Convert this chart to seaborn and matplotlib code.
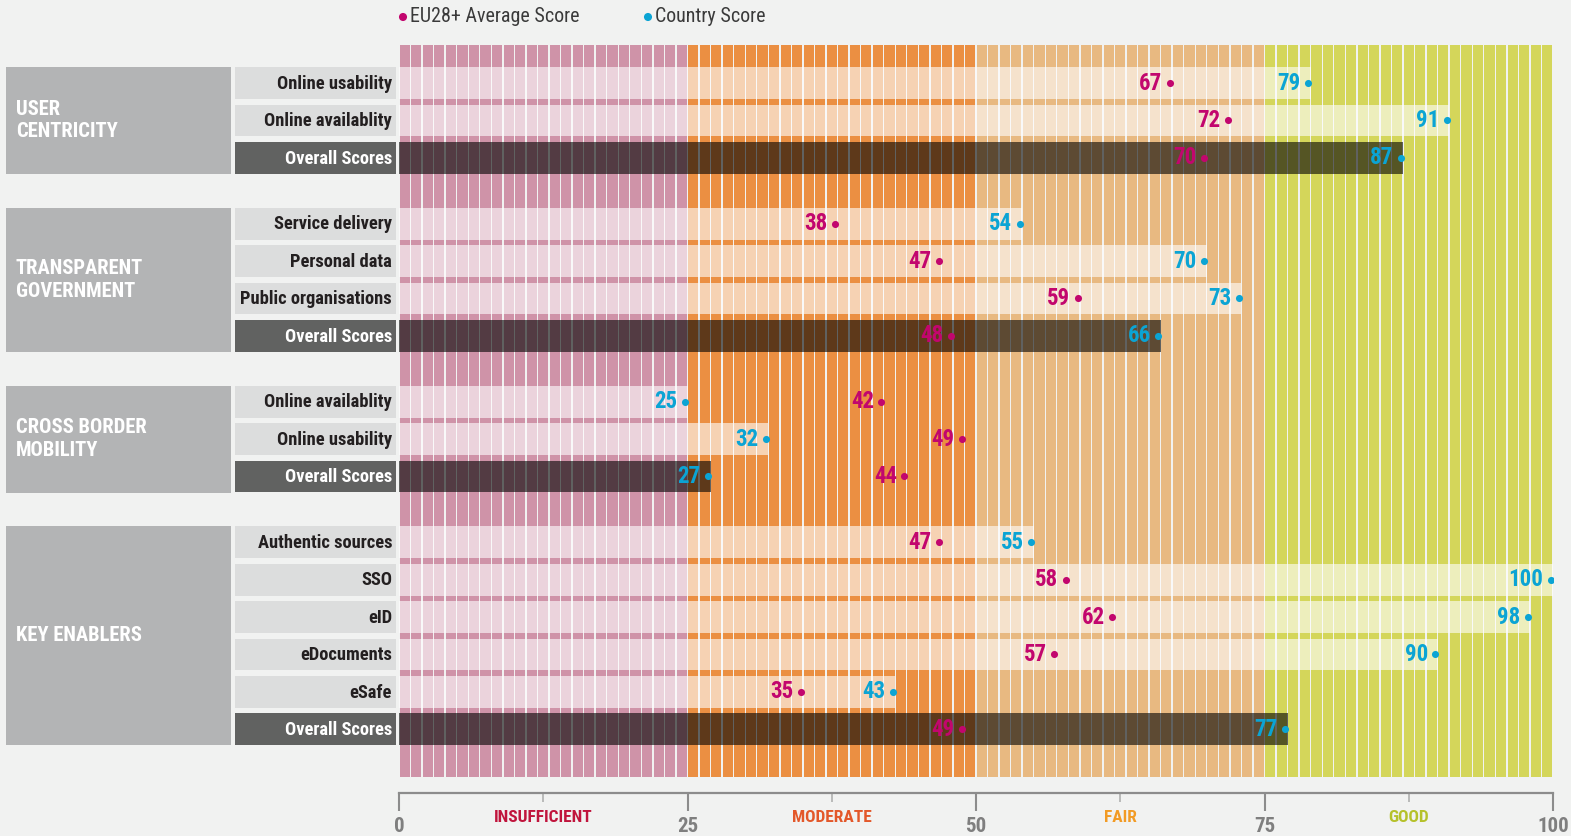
import numpy as np
import pandas as pd
import matplotlib
matplotlib.use("Agg")
import matplotlib.pyplot as plt
from matplotlib import font_manager
from matplotlib.font_manager import FontProperties
from matplotlib.patches import Rectangle
import seaborn as sns

# ---------------- data ----------------
section_names = ["USER\nCENTRICITY", "TRANSPARENT\nGOVERNMENT", "CROSS BORDER\nMOBILITY", "KEY ENABLERS"]
section_sizes = [3, 4, 3, 6]
row_labels = ["Online usability", "Online availablity", "Overall Scores",
              "Service delivery", "Personal data", "Public organisations", "Overall Scores",
              "Online availablity", "Online usability", "Overall Scores",
              "Authentic sources", "SSO", "eID", "eDocuments", "eSafe", "Overall Scores"]
eu_scores = [67, 72, 70, 38, 47, 59, 48, 42, 49, 44, 47, 58, 62, 57, 35, 49]
country_scores = [79, 91, 87, 54, 70, 73, 66, 25, 32, 27, 55, 100, 98, 90, 43, 77]
band_names = ["INSUFFICIENT", "MODERATE", "FAIR", "GOOD"]
band_edges = [0, 25, 50, 75, 100]
legend_labels = ["EU28+ Average Score", "Country Score"]

# ---------------- style ----------------
BG = "#f1f2f1"
band_colors = ["#cf93a8", "#eb8f42", "#e8b981", "#d4d65a"]
band_text_colors = ["#c0143c", "#e3582a", "#f29b25", "#b5c12a"]
EU_COL = "#c2066e"
CTRY_COL = "#0ba4d4"

names = {f.name for f in font_manager.fontManager.ttflist}
COND, STRETCH = None, "normal"
for cand in ["Roboto Condensed", "Liberation Sans Narrow", "Open Sans Condensed", "DejaVu Sans Condensed"]:
    if cand in names:
        COND = cand
        break
if COND is None:
    if any(f.name == "DejaVu Sans" and f.stretch == "condensed" for f in font_manager.fontManager.ttflist):
        COND, STRETCH = "DejaVu Sans", "condensed"
    else:
        COND = "Roboto"


def fp(size, weight="bold"):
    return FontProperties(family=COND, weight=weight, stretch=STRETCH, size=size)


sns.set_theme(style="white")
W, H = 1571, 836
fig = plt.figure(figsize=(W / 100, H / 100), dpi=100, facecolor=BG)

X0, X1 = 399, 1553        # pixel position of 0 and 100
Y_TOP, Y_BOT = 45, 777    # stripe area
ROW0, PITCH = 83, 37.4    # pixel y of first row and row pitch
ax = fig.add_axes([X0 / W, 1 - Y_BOT / H, (X1 - X0) / W, (Y_BOT - Y_TOP) / H])
ax.set_facecolor("white")
ppu = (X1 - X0) / 100.0


def xd(px):
    return (px - X0) / ppu


def yd(py):
    return (py - ROW0) / PITCH


ylo, yhi = yd(Y_TOP), yd(Y_BOT)

# row positions (section gap)
gap = 0.76
pos = []
sec_span = []
y = 0.0
for n in section_sizes:
    start = y
    for _ in range(n):
        pos.append(y)
        y += 1
    sec_span.append((start, y - 1))
    y += gap

# background stripes
units = np.arange(100)
stripe_cols = [band_colors[min(int(u) // 25, 3)] for u in units]
ax.bar(units + 0.5, yhi - ylo, bottom=ylo, width=0.88, color=stripe_cols, linewidth=0, zorder=1)

# country bars (light for details, dark for overall)
kinds = ["overall" if l == "Overall Scores" else "detail" for l in row_labels]
df = pd.DataFrame({"pos": pos, "country": country_scores, "eu": eu_scores, "kind": kinds})
sns.barplot(data=df, x="country", y="pos", hue="kind", orient="h", native_scale=True,
            palette={"detail": "white", "overall": "black"}, dodge=False, width=0.85,
            alpha=0.6, errorbar=None, legend=False, linewidth=0, ax=ax, zorder=2)

# dots
sns.scatterplot(x=df["eu"] - 0.2, y=df["pos"], color=EU_COL, s=26, linewidth=0, ax=ax, zorder=4, legend=False)
sns.scatterplot(x=df["country"] - 0.2, y=df["pos"], color=CTRY_COL, s=26, linewidth=0, ax=ax, zorder=4, legend=False)
for p, e, c in zip(pos, eu_scores, country_scores):
    ax.text(e - 0.85, p, str(e), ha="right", va="center", color=EU_COL, fontproperties=fp(16.5), zorder=5)
    ax.text(c - 0.85, p, str(c), ha="right", va="center", color=CTRY_COL, fontproperties=fp(16.5), zorder=5)

# row label boxes
bh = 0.85
for p, lab, k in zip(pos, row_labels, kinds):
    fc = "#616261" if k == "overall" else "#dcdddd"
    tc = "white" if k == "overall" else "#231f20"
    ax.add_patch(Rectangle((xd(235), p - bh / 2), xd(396) - xd(235), bh, facecolor=fc,
                           edgecolor="none", clip_on=False, zorder=3))
    ax.text(xd(392), p + 0.02, lab, ha="right", va="center", color=tc, fontproperties=fp(13.3), clip_on=False)

# section boxes
for (a, b), name in zip(sec_span, section_names):
    ax.add_patch(Rectangle((xd(6), a - 0.43), xd(231) - xd(6), (b - a) + 0.86, facecolor="#b3b4b5",
                           edgecolor="none", clip_on=False, zorder=3))
    ax.text(xd(16), (a + b) / 2, name, ha="left", va="center", color="white", fontproperties=fp(14.8),
            linespacing=1.25, clip_on=False)

ax.set_xlim(0, 100)
ax.set_ylim(yhi, ylo)
ax.axis("off")

# legend
ax.scatter([xd(403), xd(648)], [yd(17), yd(17)], s=34, c=[EU_COL, CTRY_COL], linewidth=0, clip_on=False)
ax.text(xd(410), yd(17), legend_labels[0], ha="left", va="center", color="#3a3a3a", fontproperties=fp(14.4, "normal"))
ax.text(xd(655), yd(17), legend_labels[1], ha="left", va="center", color="#3a3a3a", fontproperties=fp(14.4, "normal"))

# bottom scale axis
AXY = 793
ax2 = fig.add_axes([X0 / W, 1 - AXY / H, (X1 - X0) / W, 0.0005])
ax2.set_facecolor("none")
ax2.set_xlim(0, 100)
ax2.set_yticks([])
for s in ["top", "left", "right"]:
    ax2.spines[s].set_visible(False)
ax2.spines["bottom"].set_color("#8c8c8c")
ax2.spines["bottom"].set_linewidth(1.6)
ax2.set_xticks(band_edges)
ax2.set_xticklabels([str(v) for v in band_edges])
mids = [(band_edges[i] + band_edges[i + 1]) / 2 for i in range(4)]
ax2.set_xticks(mids, minor=True)
ax2.set_xticklabels(band_names, minor=True)
ax2.tick_params(axis="x", which="both", bottom=True, top=False, labelbottom=True)
ax2.tick_params(axis="x", which="major", direction="out", length=13, width=1.5, color="#8c8c8c", pad=4)
ax2.tick_params(axis="x", which="minor", direction="out", length=6.5, width=1.2, color="#b0b0b0", pad=6)
for t in ax2.get_xticklabels():
    t.set_fontproperties(fp(15))
    t.set_color("#7f7f7f")
for t, c in zip(ax2.get_xticklabels(minor=True), band_text_colors):
    t.set_fontproperties(fp(12.5))
    t.set_color(c)

fig.savefig("out.png", dpi=100, facecolor=BG)
